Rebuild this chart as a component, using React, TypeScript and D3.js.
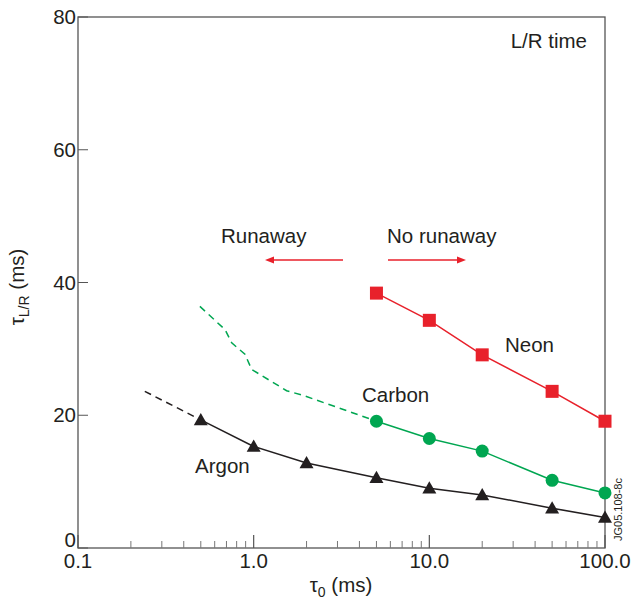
import React from "react";
import * as d3 from "d3";

const tau0 = [5, 10, 20, 50, 100];
const argonX = [0.5, 1, 2, 5, 10, 20, 50, 100];
const argonY = [19.3, 15.3, 12.8, 10.6, 9.0, 8.0, 6.0, 4.6];
const argonDashX = [0.24, 0.5];
const argonDashY = [23.6, 19.3];
const carbonY = [19.1, 16.5, 14.6, 10.2, 8.3];
const carbonDashX = [0.494, 0.687, 0.75, 0.892, 0.974, 1.54, 1.96, 5];
const carbonDashY = [36.4, 32.9, 30.9, 29.2, 26.9, 23.7, 22.9, 19.1];
const neonY = [38.4, 34.3, 29.1, 23.6, 19.1];
const yTicks = [0, 20, 40, 60, 80];
const xMajor = [0.1, 1, 10, 100];
const xMajorLabels = ["0.1", "1.0", "10.0", "100.0"];

const RED = "#e8212b";
const GREEN = "#00a651";
const BLACK = "#231f20";
const FONT = "'Liberation Sans', Arial, Helvetica, sans-serif";
const FS = 20.5;

export default function App() {
  const W = 634, H = 600;
  const x = d3.scaleLog().domain([0.1, 100]).range([78, 605]);
  const y = d3.scaleLinear().domain([0, 80]).range([548, 17]);
  const line = d3.line<[number, number]>().x(d => x(d[0])).y(d => y(d[1]));
  const zip = (a: number[], b: number[]) => a.map((v, i) => [v, b[i]] as [number, number]);

  const minor: number[] = [];
  for (const dec of [0.1, 1, 10]) for (let k = 2; k <= 9; k++) minor.push(dec * k);

  const tri = (cx: number, cy: number, s = 7) =>
    `M${cx},${cy - s}L${cx + s * 1.0},${cy + s * 0.75}L${cx - s * 1.0},${cy + s * 0.75}Z`;

  return (
    <svg width={W} height={H} style={{ position: "absolute", left: 0, top: 0 }} fontFamily={FONT}>
      <rect x={0} y={0} width={W} height={H} fill="#fff" />
      {/* frame */}
      <rect x={x(0.1)} y={y(80)} width={x(100) - x(0.1)} height={y(0) - y(80)} fill="none" stroke="#555" strokeWidth={1.3} />
      {/* y ticks */}
      {yTicks.map(t => (
        <g key={"y" + t}>
          <line x1={x(0.1)} x2={x(0.1) + 10} y1={y(t)} y2={y(t)} stroke="#555" strokeWidth={1} />
          <text x={x(0.1) - 2} y={t === 0 ? y(t) - 1 : y(t) + 7} textAnchor="end" fontSize={FS} fill={BLACK}>{t}</text>
        </g>
      ))}
      {/* x ticks */}
      {xMajor.map((t, i) => (
        <g key={"x" + t}>
          <line x1={x(t)} x2={x(t)} y1={y(0)} y2={y(0) - 13} stroke="#555" strokeWidth={1.2} />
          <text x={x(t)} y={y(0) + 20} textAnchor="middle" fontSize={FS} fill={BLACK}>{xMajorLabels[i]}</text>
        </g>
      ))}
      {minor.map(t => (
        <line key={"m" + t} x1={x(t)} x2={x(t)} y1={y(0)} y2={y(0) - 7} stroke="#777" strokeWidth={1} />
      ))}
      {/* axis titles */}
      <text x={341} y={592} textAnchor="middle" fontSize={FS} fill={BLACK}>
        τ<tspan fontSize={14} dy={5}>0</tspan><tspan dy={-5}> (ms)</tspan>
      </text>
      <text transform="translate(24,287) rotate(-90)" textAnchor="middle" fontSize={FS} fill={BLACK}>
        τ<tspan fontSize={14} dy={5}>L/R</tspan><tspan dy={-5}> (ms)</tspan>
      </text>
      <text x={587} y={48} textAnchor="end" fontSize={FS} fill={BLACK}>L/R time</text>
      {/* runaway annotations */}
      <text x={221} y={243} fontSize={FS} fill={BLACK}>Runaway</text>
      <text x={387} y={243} fontSize={FS} fill={BLACK}>No runaway</text>
      <line x1={343} x2={272} y1={260} y2={260} stroke={RED} strokeWidth={1.3} />
      <path d="M265,260L274,256.5L274,263.5Z" fill={RED} />
      <line x1={388} x2={459} y1={260} y2={260} stroke={RED} strokeWidth={1.3} />
      <path d="M466,260L457,256.5L457,263.5Z" fill={RED} />
      {/* dashed extensions */}
      <path d={line(zip(argonDashX, argonDashY)) || ""} fill="none" stroke={BLACK} strokeWidth={1.5} strokeDasharray="7,5" />
      <path d={line(zip(carbonDashX, carbonDashY)) || ""} fill="none" stroke={GREEN} strokeWidth={1.5} strokeDasharray="7,5" />
      {/* solid series */}
      <path d={line(zip(argonX, argonY)) || ""} fill="none" stroke={BLACK} strokeWidth={1.5} />
      <path d={line(zip(tau0, carbonY)) || ""} fill="none" stroke={GREEN} strokeWidth={1.5} />
      <path d={line(zip(tau0, neonY)) || ""} fill="none" stroke={RED} strokeWidth={1.5} />
      {argonX.map((v, i) => (
        <path key={"a" + i} d={tri(x(v), y(argonY[i]))} fill={BLACK} />
      ))}
      {tau0.map((v, i) => (
        <circle key={"c" + i} cx={x(v)} cy={y(carbonY[i])} r={6.5} fill={GREEN} />
      ))}
      {tau0.map((v, i) => (
        <rect key={"n" + i} x={x(v) - 6.5} y={y(neonY[i]) - 6.5} width={13} height={13} fill={RED} />
      ))}
      {/* series labels */}
      <text x={505} y={352} fontSize={FS} fill={BLACK}>Neon</text>
      <text x={362} y={402} fontSize={FS} fill={BLACK}>Carbon</text>
      <text x={195} y={473} fontSize={FS} fill={BLACK}>Argon</text>
      <text transform="translate(622,541) rotate(-90)" fontSize={11} fill={BLACK}>JG05.108-8c</text>
    </svg>
  );
}
